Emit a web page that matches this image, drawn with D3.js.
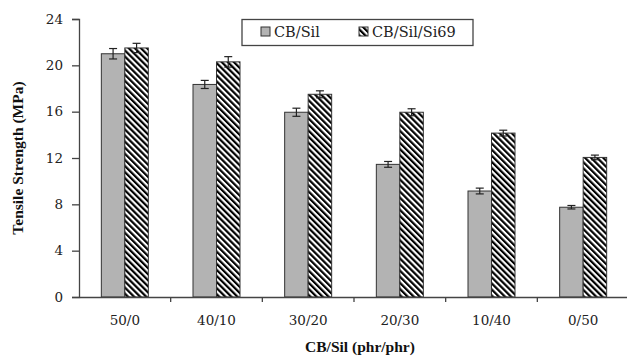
<!DOCTYPE html>
<html><head><meta charset="utf-8">
<script src="https://cdn.jsdelivr.net/npm/d3@7"></script>
<style>body{margin:0;background:#fff}svg{display:block}</style>
</head><body>
<svg id="c" width="627" height="357"></svg>
<script>
const categories = ["50/0","40/10","30/20","20/30","10/40","0/50"];
const seriesNames = ["CB/Sil","CB/Sil/Si69"];
const cbSil = [21.0,18.35,15.95,11.45,9.15,7.75];
const cbSilSi69 = [21.5,20.3,17.5,15.95,14.15,12.05];
const errCbSil = [0.45,0.35,0.35,0.25,0.25,0.15];
const errCbSilSi69 = [0.4,0.45,0.3,0.3,0.25,0.2];
const yTicks = [0,4,8,12,16,20,24];

const svg = d3.select("#c");
const m = {l:79, r:-2, t:19, b:60};
const W = 627, H = 357;
const x = d3.scaleBand().domain(categories).range([m.l, W - m.r]).paddingInner(0).paddingOuter(0);
const y = d3.scaleLinear().domain([0,24]).range([297, 19]);
const x1 = d3.scaleBand().domain(seriesNames).range([0, 47]);

const defs = svg.append("defs");
const pat = defs.append("pattern").attr("id","hatch").attr("patternUnits","userSpaceOnUse")
  .attr("width",4.3).attr("height",4.3).attr("patternTransform","rotate(-45)");
pat.append("rect").attr("width",4.3).attr("height",4.3).attr("fill","#fff");
pat.append("line").attr("x1",1.1).attr("y1",0).attr("x2",1.1).attr("y2",4.3).attr("stroke","#000").attr("stroke-width",2.2);

const fills = ["#b3b3b3","url(#hatch)"];
const vals = [cbSil, cbSilSi69];
const errs = [errCbSil, errCbSilSi69];
const serif = "'DejaVu Serif', serif";
const tnr = "'Liberation Serif', serif";

const g = svg.append("g");
seriesNames.forEach((s,si)=>{
  categories.forEach((c,i)=>{
    const bx = x(c) + x.bandwidth()/2 - 23.5 + x1(s);
    g.append("rect").attr("x",bx).attr("y",y(vals[si][i])).attr("width",x1.bandwidth())
      .attr("height",y(0)-y(vals[si][i])).attr("fill",fills[si]).attr("stroke","#333").attr("stroke-width",1);
    const cx = bx + x1.bandwidth()/2;
    const e = errs[si][i];
    g.append("line").attr("x1",cx).attr("x2",cx).attr("y1",y(vals[si][i]+e)).attr("y2",y(vals[si][i]-e)).attr("stroke","#222").attr("stroke-width",1.2);
    [e,-e].forEach(d=>g.append("line").attr("x1",cx-4).attr("x2",cx+4).attr("y1",y(vals[si][i]+d)).attr("y2",y(vals[si][i]+d)).attr("stroke","#222").attr("stroke-width",1.2));
  });
});

// axes
const yAxis = svg.append("g").attr("transform",`translate(${m.l},0)`)
  .call(d3.axisLeft(y).tickValues(yTicks).tickSize(7).tickPadding(9));
yAxis.select(".domain").attr("stroke","#444").attr("stroke-width",1.3);
yAxis.selectAll(".tick line").attr("stroke","#444").attr("stroke-width",1.3);
yAxis.selectAll("text").attr("font-family",serif).attr("font-size",13.5).attr("fill","#222");

const xAxis = svg.append("g").attr("transform",`translate(0,${y(0)})`)
  .call(d3.axisBottom(x).tickSize(0).tickPadding(18));
xAxis.select(".domain").attr("stroke","#444").attr("stroke-width",1.3);
xAxis.selectAll("text").attr("font-family",serif).attr("font-size",13.5).attr("fill","#222");
// category separators
categories.slice(1).forEach(c=>{
  svg.append("line").attr("x1",x(c)).attr("x2",x(c)).attr("y1",y(0)).attr("y2",y(0)+5).attr("stroke","#444").attr("stroke-width",1.3);
});

svg.append("text").attr("x",360).attr("y",352).attr("text-anchor","middle")
  .attr("font-family",tnr).attr("font-weight","bold").attr("font-size",15.5).attr("fill","#111")
  .text("CB/Sil (phr/phr)");
svg.append("text").attr("transform","translate(23,158) rotate(-90)").attr("text-anchor","middle")
  .attr("font-family",tnr).attr("font-weight","bold").attr("font-size",15.5).attr("fill","#111")
  .text("Tensile Strength (MPa)");

// legend
const lg = svg.append("g");
lg.append("rect").attr("x",242).attr("y",19.5).attr("width",231).attr("height",26).attr("fill","#fff").attr("stroke","#444").attr("stroke-width",1.3);
const lx = [261, 359];
seriesNames.forEach((s,i)=>{
  lg.append("rect").attr("x",lx[i]).attr("y",27).attr("width",9).attr("height",9).attr("fill",fills[i]).attr("stroke","#333");
  lg.append("text").attr("x",lx[i]+13).attr("y",37).attr("font-family",serif).attr("font-size",14.5).attr("fill","#222").text(s);
});
</script>
</body></html>
